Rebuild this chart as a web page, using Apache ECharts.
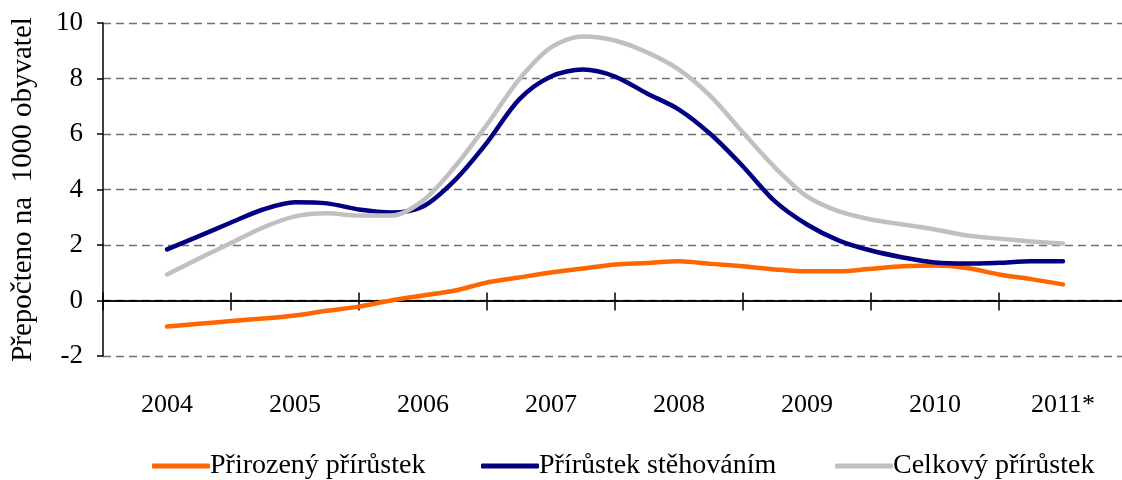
<!DOCTYPE html>
<html>
<head>
<meta charset="utf-8">
<script src="https://cdn.jsdelivr.net/npm/echarts@6/dist/echarts.min.js"></script>
<style>
  html, body { margin: 0; padding: 0; background: #fff; }
  #chart { width: 1122px; height: 480px; }
</style>
</head>
<body>
<div id="chart"></div>
<script>
// Year categories (axis labels)
const years = ['2004', '2005', '2006', '2007', '2008', '2009', '2010', '2011*'];
// Quarterly values, first point at 2004, last at 2011*
const prirozeny = [-0.94, -0.84, -0.74, -0.65, -0.54, -0.37, -0.22, 0.0, 0.18, 0.36, 0.65, 0.83, 1.01, 1.15, 1.30, 1.35, 1.41, 1.32, 1.23, 1.12, 1.05, 1.05, 1.14, 1.23, 1.26, 1.17, 0.94, 0.77, 0.58];
const stehovani = [1.84, 2.32, 2.81, 3.28, 3.54, 3.50, 3.28, 3.17, 3.39, 4.34, 5.69, 7.24, 8.07, 8.32, 8.07, 7.46, 6.88, 5.98, 4.83, 3.57, 2.74, 2.16, 1.80, 1.55, 1.37, 1.33, 1.36, 1.41, 1.41];
const celkovy = [0.94, 1.51, 2.07, 2.63, 3.03, 3.14, 3.06, 3.06, 3.60, 4.83, 6.34, 7.96, 9.12, 9.51, 9.37, 8.94, 8.32, 7.35, 6.05, 4.79, 3.75, 3.21, 2.92, 2.74, 2.56, 2.34, 2.23, 2.13, 2.05];
const yTicks = [-2, 0, 2, 4, 6, 8, 10];
const seriesNames = ['Přirozený přírůstek', 'Přírůstek stěhováním', 'Celkový přírůstek'];
const colors = ['#FF6600', '#000080', '#C0C0C0'];

const FONT = '"Liberation Serif", "Times New Roman", serif';
const toXY = arr => arr.map((v, i) => [i / 4, v]);

const chart = echarts.init(document.getElementById('chart'), null, { renderer: 'canvas' });

const legendBase = {
  orient: 'horizontal',
  top: 447,
  itemWidth: 58,
  itemHeight: 5,
  itemGap: 10,
  icon: 'roundRect',
  textStyle: { fontFamily: FONT, fontSize: 28, color: '#000', padding: [0, 0, 0, -5] }
};

const axisLineStyle = { color: '#000', width: 1.5 };

chart.setOption({
  animation: false,
  backgroundColor: '#fff',
  grid: { left: 103, top: 23, width: 1024, height: 333, containLabel: false, outerBoundsMode: 'none' },
  legend: [
    Object.assign({}, legendBase, { left: 147, data: [seriesNames[0]] }),
    Object.assign({}, legendBase, { left: 476, data: [seriesNames[1]] }),
    Object.assign({}, legendBase, { left: 830, data: [seriesNames[2]] })
  ],
  xAxis: [
    { type: 'value', min: -0.5, max: 7.5, show: false, position: 'bottom', axisLine: { onZero: false } },
    {
      type: 'category', data: years, boundaryGap: true, position: 'bottom',
      axisLine: { show: true, onZero: true, onZeroAxisIndex: 0, lineStyle: axisLineStyle },
      axisTick: { show: true, inside: false, length: 10, alignWithLabel: false, lineStyle: axisLineStyle },
      axisLabel: { show: false }, splitLine: { show: false }
    },
    {
      type: 'category', data: years, boundaryGap: true, position: 'bottom',
      axisLine: { show: true, onZero: true, onZeroAxisIndex: 0, lineStyle: axisLineStyle },
      axisTick: { show: true, inside: true, length: 8, alignWithLabel: false, lineStyle: axisLineStyle },
      axisLabel: { show: false }, splitLine: { show: false }
    },
    {
      type: 'category', data: years, boundaryGap: true, position: 'bottom',
      axisLine: { show: false, onZero: false },
      axisTick: { show: false },
      axisLabel: { show: true, margin: 36, fontFamily: FONT, fontSize: 26, color: '#000' },
      splitLine: { show: false }
    }
  ],
  yAxis: {
    type: 'value', min: yTicks[0], max: yTicks[yTicks.length - 1], interval: 2, position: 'left',
    axisLine: { show: true, onZero: false, lineStyle: axisLineStyle },
    axisTick: { show: true, length: 6, lineStyle: axisLineStyle },
    axisLabel: { margin: 20, fontFamily: FONT, fontSize: 27, color: '#000' },
    splitLine: { show: true, lineStyle: { color: '#707070', width: 1.3, type: [8, 5] } },
    name: 'Přepočteno na  1000 obyvatel',
    nameLocation: 'middle', nameRotate: 90, nameGap: 65,
    nameTextStyle: { fontFamily: FONT, fontSize: 29, color: '#000' }
  },
  series: [prirozeny, stehovani, celkovy].map((arr, i) => ({
    name: seriesNames[i],
    type: 'line',
    xAxisIndex: 0,
    data: toXY(arr),
    smooth: 0.3,
    showSymbol: false,
    symbol: 'none',
    color: colors[i],
    lineStyle: { color: colors[i], width: 4.5, cap: 'round', join: 'round' },
    z: 2 + i
  }))
});
</script>
</body>
</html>
